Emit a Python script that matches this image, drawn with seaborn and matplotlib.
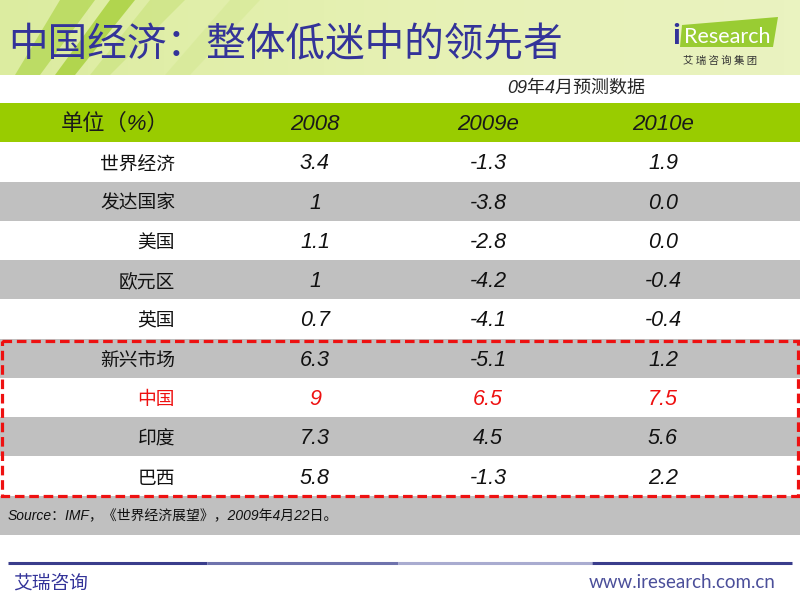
import matplotlib.pyplot as plt
import numpy as np
import pandas as pd
import seaborn as sns
from matplotlib.colors import ListedColormap
from matplotlib.patches import Polygon, Rectangle

# table content
header = ["单位（%）", "2008", "2009e", "2010e"]
regions = ["世界经济", "发达国家", "美国", "欧元区", "英国", "新兴市场", "中国", "印度", "巴西"]
val_2008 = ["3.4", "1", "1.1", "1", "0.7", "6.3", "9", "7.3", "5.8"]
val_2009e = ["-1.3", "-3.8", "-2.8", "-4.2", "-4.1", "-5.1", "6.5", "4.5", "-1.3"]
val_2010e = ["1.9", "0.0", "0.0", "-0.4", "-0.4", "1.2", "7.5", "5.6", "2.2"]
highlight = "中国"
emerging = ["新兴市场", "中国", "印度", "巴西"]

title = "中国经济：整体低迷中的领先者"
subtitle = "09年4月预测数据"
source = "Source：IMF，《世界经济展望》，2009年4月22日。"

sns.set_theme(style="white")
plt.rcParams["font.family"] = ["Noto Sans CJK SC", "DejaVu Sans"]

CJK = ["Noto Sans CJK SC", "DejaVu Sans"]
NUM = ["Liberation Sans", "Noto Sans CJK SC"]
BLUE = "#333399"
GREEN = "#99cc00"
GRAY = "#c0c0c0"

W, H = 800, 600
fig = plt.figure(figsize=(8, 6), dpi=100)
ax = fig.add_axes([0, 0, 1, 1])
ax.set_xlim(0, W)
ax.set_ylim(H, 0)
ax.axis("off")

# title band
grad = np.linspace(0, 1, 200)[None, :]
band = ListedColormap(sns.blend_palette(["#dceca0", "#e6f1b4", "#eaf3c0"], 64))
ax.imshow(grad, cmap=band, extent=[0, W, 75, 0], aspect="auto", zorder=0)
for pts, col, a in [
    ([(60, 0), (95, 0), (40, 75), (15, 75)], "#b5d957", 0.8),
    ([(110, 0), (135, 0), (75, 75), (55, 75)], "#9fcc2a", 0.7),
    ([(150, 0), (185, 0), (110, 75), (90, 75)], "#c8e27a", 0.6),
    ([(230, 0), (260, 0), (190, 75), (165, 75)], "#d3e891", 0.5),
]:
    ax.add_patch(Polygon(pts, closed=True, color=col, alpha=a, lw=0, zorder=1))

ax.text(8, 45, title, color=BLUE, fontsize=28.5, family=CJK, va="center", ha="left", zorder=3)

# logo
ax.add_patch(Polygon([(682, 25), (778, 17), (773, 47), (680, 47)], closed=True,
                     color="#99cc33", lw=0, zorder=2))
ax.text(676, 37, "i", color=BLUE, fontsize=19, fontweight="bold", ha="center", va="center", zorder=3)
ax.text(684, 37, "Research", color="white", fontsize=15.5, ha="left", va="center",
        family=["Lato", "DejaVu Sans"], zorder=3)
ax.text(720, 61, "艾 瑞 咨 询 集 团", color="#333333", fontsize=7.5, ha="center", va="center",
        family=CJK, zorder=3)

ax.text(576, 88, subtitle, fontsize=13, style="italic", family=NUM, ha="center", va="center")

# table body: one-column heatmap gives the row fills (header, stripes, source line)
n = len(regions)
stripe = [2] + [1 if i % 2 == 1 else 0 for i in range(n)] + [1]
tab = fig.add_axes([0, 1 - 535 / H, 1, 432 / H])
sns.heatmap(pd.DataFrame({"fill": stripe}), ax=tab, cmap=ListedColormap(["white", GRAY, GREEN]),
            vmin=-0.5, vmax=2.5, cbar=False, xticklabels=False, yticklabels=False)

col_x = [175, 315, 488, 663]
for j, h in enumerate(header):
    x = 115 if j == 0 else col_x[j]
    tab.text(x / W, 0.55, h, fontsize=16, style="italic", family=NUM, ha="center", va="center",
             color="#1a1a1a")

for i, r in enumerate(regions):
    y = i + 1.55
    c = "#ee1111" if r == highlight else "#111111"
    tab.text(col_x[0] / W, y, r, fontsize=13.5, family=CJK, ha="right", va="center", color=c)
    for x, v in zip(col_x[1:], (val_2008[i], val_2009e[i], val_2010e[i])):
        tab.text(x / W, y, v, fontsize=15.5, style="italic", family=NUM, ha="center", va="center", color=c)

tab.text(8 / W, n + 1.5, source, fontsize=10, style="italic", family=NUM, ha="left", va="center",
         color="#111111")

first = regions.index(emerging[0]) + 1
tab.add_patch(Rectangle((2 / W, first + 0.05), (W - 4) / W, len(emerging) - 0.05, fill=False,
                        edgecolor="#ee1111", lw=2.3, ls=(0, (3, 1.5)), clip_on=False, zorder=5))

# footer
for x0, x1, col in [(8, 207, "#3a3d8c"), (207, 398, "#6f73ad"), (398, 592, "#a9acd0"), (592, 792, "#3a3d8c")]:
    ax.plot([x0, x1], [563, 563], color=col, lw=2.2, solid_capstyle="butt")
ax.text(13, 583, "艾瑞咨询", fontsize=13.5, family=CJK, color=BLUE, ha="left", va="center")
ax.text(776, 583, "www.iresearch.com.cn", fontsize=13.5, family=["Lato", "DejaVu Sans"],
        color="#4b4f9a", ha="right", va="center")

fig.savefig("out.png", dpi=100)
